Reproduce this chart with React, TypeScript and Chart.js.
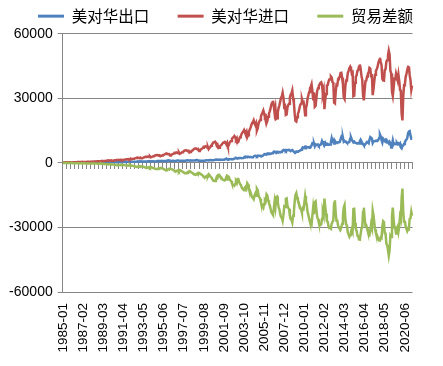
import React, { useEffect, useRef } from "react";
import { Chart, registerables } from "chart.js";

Chart.register(...registerables);

const START_YEAR = 1985;
const SERIES_NAMES = ["美对华出口", "美对华进口", "贸易差额"];
const SERIES_COLORS = ["#4F81BD", "#C0504D", "#9BBB59"];
const Y_MIN = -60000;
const Y_MAX = 60000;
const Y_STEP = 30000;
const LABEL_EVERY = 25;
const TICK_EVERY = 5;

// US exports to China, monthly (million USD)
const exportsToChina: number[] = [
  330, 300, 320, 310, 330, 320, 290, 300, 310, 330, 350, 345,
  270, 240, 260, 250, 255, 250, 240, 245, 255, 270, 280, 290,
  280, 260, 290, 280, 285, 290, 275, 280, 290, 305, 320, 340,
  380, 350, 400, 390, 410, 410, 400, 410, 430, 450, 480, 510,
  470, 430, 480, 460, 480, 470, 450, 460, 470, 500, 530, 555,
  420, 370, 400, 380, 390, 390, 370, 380, 390, 410, 440, 450,
  480, 450, 500, 490, 510, 510, 490, 510, 530, 560, 600, 640,
  580, 540, 600, 580, 600, 600, 580, 600, 620, 660, 710, 750,
  690, 640, 710, 690, 710, 710, 680, 700, 730, 780, 840, 880,
  760, 700, 770, 740, 750, 750, 720, 730, 750, 820, 890, 900,
  920, 860, 960, 920, 950, 950, 910, 930, 960, 1040, 1140, 1210,
  1000, 920, 1000, 950, 970, 970, 920, 930, 950, 1050, 1150, 1180,
  1070, 990, 1070, 1020, 1040, 1040, 990, 1000, 1020, 1130, 1230, 1260,
  1190, 1090, 1190, 1130, 1150, 1150, 1090, 1100, 1130, 1250, 1370, 1400,
  1090, 1000, 1090, 1040, 1060, 1060, 1000, 1020, 1040, 1150, 1260, 1300,
  1280, 1200, 1320, 1280, 1310, 1320, 1260, 1290, 1330, 1450, 1560, 1580,
  1550, 1430, 1570, 1500, 1540, 1540, 1480, 1500, 1520, 1680, 1830, 2040,
  1750, 1620, 1780, 1720, 1770, 1780, 1720, 1750, 1800, 1970, 2150, 2320,
  2200, 2050, 2280, 2200, 2250, 2270, 2200, 2240, 2320, 2580, 2850, 2930,
  2800, 2600, 2900, 2800, 2800, 2750, 2650, 2700, 2800, 3000, 3300, 3330,
  3300, 3050, 3400, 3250, 3350, 3350, 3200, 3250, 3350, 3600, 3950, 4140,
  4100, 3900, 4400, 4200, 4400, 4400, 4200, 4300, 4500, 4800, 5200, 5270,
  5000, 4700, 5200, 5000, 5100, 5100, 4900, 5100, 5300, 5700, 6000, 5840,
  6000, 5600, 6000, 5900, 6000, 6100, 5800, 5700, 5800, 6000, 5600, 5230,
  5000, 4800, 5300, 5200, 5400, 5500, 5600, 5800, 6100, 6600, 7200, 7000,
  7300, 6800, 7600, 7500, 7300, 7300, 7100, 7400, 7500, 8100, 9100, 8900,
  9000, 7800, 8600, 8300, 8500, 8600, 8000, 8300, 8400, 9000, 10200, 9400,
  9500, 8400, 9300, 8500, 9000, 8900, 8500, 8500, 8600, 9700, 11500, 10100,
  10500, 9100, 10300, 9700, 9500, 9300, 9600, 9700, 9800, 10900, 12000, 11300,
  11700, 9900, 10200, 9800, 9800, 9400, 9400, 9600, 9800, 11300, 11900, 10900,
  10200, 9600, 9900, 9400, 9300, 9200, 9000, 9200, 9100, 10100, 10800, 10100,
  8900, 8900, 8300, 8300, 8800, 9300, 9800, 9600, 9200, 10800, 12000, 11700,
  11300, 9300, 10000, 10100, 10200, 10300, 10400, 10300, 10700, 11600, 13300, 12400,
  10600, 9500, 11300, 10800, 10500, 10800, 9600, 9500, 9700, 9100, 9800, 9100,
  7200, 8400, 10400, 8600, 9100, 9000, 8700, 9400, 8800, 9100, 8600, 9100,
  7200, 6800, 7900, 8100, 8800, 9500, 10500, 10900, 11600, 13800, 14600, 14800,
  12800, 11300, 11400,
];

// US imports from China, monthly (million USD)
const importsFromChina: number[] = [
  306, 264, 277, 290, 306, 316, 335, 354, 354, 367, 354, 341,
  378, 326, 342, 358, 378, 390, 414, 438, 438, 454, 438, 422,
  499, 430, 451, 472, 499, 514, 546, 577, 577, 598, 577, 556,
  674, 581, 610, 638, 674, 695, 737, 780, 780, 808, 780, 752,
  949, 819, 859, 899, 949, 979, 1039, 1099, 1099, 1139, 1099, 1059,
  1206, 1041, 1092, 1143, 1206, 1244, 1320, 1397, 1397, 1447, 1397, 1346,
  1502, 1296, 1360, 1423, 1502, 1549, 1644, 1739, 1739, 1802, 1739, 1676,
  2037, 1758, 1844, 1930, 2037, 2101, 2230, 2358, 2358, 2444, 2358, 2273,
  2497, 2155, 2260, 2365, 2497, 2575, 2733, 2891, 2891, 2996, 2891, 2786,
  3070, 2650, 2780, 2909, 3070, 3167, 3361, 3555, 3555, 3684, 3555, 3426,
  3605, 3112, 3264, 3416, 3605, 3719, 3947, 4175, 4175, 4326, 4175, 4023,
  4078, 3520, 3692, 3864, 4078, 4207, 4465, 4722, 4722, 4894, 4722, 4551,
  4952, 4275, 4483, 4692, 4952, 5109, 5422, 5734, 5734, 5943, 5734, 5526,
  5634, 4863, 5101, 5338, 5634, 5812, 6168, 6524, 6524, 6761, 6524, 6287,
  6475, 5589, 5862, 6134, 6475, 6680, 7089, 7498, 7498, 7770, 7498, 7225,
  7400, 6400, 6900, 7400, 8000, 8400, 9100, 9600, 9700, 9900, 9300, 8100,
  8523, 6989, 7074, 7671, 8097, 8353, 8949, 9375, 9546, 9801, 9290, 8608,
  9400, 7800, 8200, 9300, 9900, 10200, 11200, 11800, 12000, 12500, 11900, 10900,
  11500, 9500, 9800, 11200, 12000, 12500, 13500, 14200, 14600, 15300, 14300, 13900,
  14600, 12000, 12900, 14500, 15400, 16300, 17500, 18600, 18900, 19800, 18500, 17600,
  18500, 15000, 16000, 18200, 19300, 20000, 21600, 22700, 23500, 24400, 23000, 21300,
  21700, 18500, 19500, 21500, 23000, 24000, 25500, 27200, 28000, 28900, 26700, 23300,
  25500, 20500, 20800, 23500, 25600, 26800, 28600, 30300, 30800, 32600, 30300, 26100,
  26500, 22300, 22500, 25800, 26900, 27500, 30400, 31800, 32300, 33700, 30100, 27900,
  22900, 19600, 19300, 21200, 22800, 23800, 25700, 27000, 27600, 29700, 28300, 28400,
  25800, 22200, 25500, 27000, 30000, 31500, 33000, 34800, 35400, 36600, 33500, 29600,
  32800, 26100, 26500, 30200, 33600, 34700, 35800, 36600, 37200, 37500, 36200, 32200,
  33900, 25000, 29600, 32100, 36000, 36200, 37800, 38800, 38800, 40200, 39700, 37500,
  37300, 28000, 27700, 33000, 36400, 36200, 38900, 39700, 39900, 41800, 41900, 39600,
  36500, 30600, 29800, 35800, 38300, 38600, 41700, 42800, 44100, 44800, 43900, 41600,
  42000, 31000, 31200, 37300, 40000, 40700, 42800, 43200, 44700, 45800, 43900, 40600,
  38700, 31700, 29100, 33900, 38000, 38300, 40200, 41500, 42100, 44200, 43900, 40300,
  41300, 31500, 34300, 38000, 41000, 42800, 43600, 44600, 46400, 47600, 48900, 47000,
  45500, 39100, 38400, 38300, 43200, 43600, 47100, 47800, 50000, 52200, 50400, 42900,
  41600, 33200, 31200, 34800, 39100, 39000, 41500, 40000, 38500, 41100, 38200, 34000,
  33300, 22800, 19800, 31100, 36100, 36500, 40000, 41500, 43300, 44700, 44900, 40800,
  38500, 34000, 36000,
];

// Trade balance (exports - imports), monthly (million USD)
const tradeBalance: number[] = [
  24, 36, 43, 20, 24, 4, -45, -54, -44, -37, -4, 4,
  -108, -86, -82, -108, -123, -140, -174, -193, -183, -184, -158, -132,
  -219, -170, -161, -192, -214, -224, -271, -297, -287, -293, -257, -216,
  -294, -231, -210, -248, -264, -285, -337, -370, -350, -358, -300, -242,
  -479, -389, -379, -439, -469, -509, -589, -639, -629, -639, -569, -504,
  -786, -671, -692, -763, -816, -854, -950, -1017, -1007, -1037, -957, -896,
  -1022, -846, -860, -933, -992, -1039, -1154, -1229, -1209, -1242, -1139, -1036,
  -1457, -1218, -1244, -1350, -1437, -1501, -1650, -1758, -1738, -1784, -1648, -1523,
  -1807, -1515, -1550, -1675, -1787, -1865, -2053, -2191, -2161, -2216, -2051, -1906,
  -2310, -1950, -2010, -2169, -2320, -2417, -2641, -2825, -2805, -2864, -2665, -2526,
  -2685, -2252, -2304, -2496, -2655, -2769, -3037, -3245, -3215, -3286, -3035, -2813,
  -3078, -2600, -2692, -2914, -3108, -3237, -3545, -3792, -3772, -3844, -3572, -3371,
  -3882, -3285, -3413, -3672, -3912, -4069, -4432, -4734, -4714, -4813, -4504, -4266,
  -4444, -3773, -3911, -4208, -4484, -4662, -5078, -5424, -5394, -5511, -5154, -4887,
  -5385, -4589, -4772, -5094, -5415, -5620, -6089, -6478, -6458, -6620, -6238, -5925,
  -6120, -5200, -5580, -6120, -6690, -7080, -7840, -8310, -8370, -8450, -7740, -6520,
  -6973, -5559, -5504, -6171, -6557, -6813, -7469, -7875, -8026, -8121, -7460, -6568,
  -7650, -6180, -6420, -7580, -8130, -8420, -9480, -10050, -10200, -10530, -9750, -8580,
  -9300, -7450, -7520, -9000, -9750, -10230, -11300, -11960, -12280, -12720, -11450, -10970,
  -11800, -9400, -10000, -11700, -12600, -13550, -14850, -15900, -16100, -16800, -15200, -14270,
  -15200, -11950, -12600, -14950, -15950, -16650, -18400, -19450, -20150, -20800, -19050, -17160,
  -17600, -14600, -15100, -17300, -18600, -19600, -21300, -22900, -23500, -24100, -21500, -18030,
  -20500, -15800, -15600, -18500, -20500, -21700, -23700, -25200, -25500, -26900, -24300, -20260,
  -20500, -16700, -16500, -19900, -20900, -21400, -24600, -26100, -26500, -27700, -24500, -22670,
  -17900, -14800, -14000, -16000, -17400, -18300, -20100, -21200, -21500, -23100, -21100, -21400,
  -18500, -15400, -17900, -19500, -22700, -24200, -25900, -27400, -27900, -28500, -24400, -20700,
  -23800, -18300, -17900, -21900, -25100, -26100, -27800, -28300, -28800, -28500, -26000, -22800,
  -24400, -16600, -20300, -23600, -27000, -27300, -29300, -30300, -30200, -30500, -28200, -27400,
  -26800, -18900, -17400, -23300, -26900, -26900, -29300, -30000, -30100, -30900, -29900, -28300,
  -24800, -20700, -19600, -26000, -28500, -29200, -32300, -33200, -34300, -33500, -32000, -30700,
  -31800, -21400, -21300, -27900, -30700, -31500, -33800, -34000, -35600, -35700, -33100, -30500,
  -29800, -22800, -20800, -25600, -29200, -29000, -30400, -31900, -32900, -33400, -31900, -28600,
  -30000, -22200, -24300, -27900, -30800, -32500, -33200, -34300, -35700, -36000, -35600, -34600,
  -34900, -29600, -27100, -27500, -32700, -32800, -37500, -38300, -40300, -43100, -40600, -33800,
  -34400, -24800, -20800, -26200, -30000, -30000, -32800, -30600, -29700, -32000, -29600, -24900,
  -26100, -16000, -11900, -23000, -27300, -27000, -29500, -30600, -31700, -30900, -30300, -26000,
  -25700, -22700, -24600,
];

// Month categories "YYYY-MM"
const categories: string[] = exportsToChina.map(
  (_, i) => `${START_YEAR + Math.floor(i / 12)}-${String((i % 12) + 1).padStart(2, "0")}`
);

const GRID_COLOR = "#868686";
const TEXT_COLOR = "#000000";

export default function App() {
  const canvasRef = useRef<HTMLCanvasElement | null>(null);

  useEffect(() => {
    if (!canvasRef.current) return;
    const seriesData = [exportsToChina, importsFromChina, tradeBalance];
    const chart = new Chart(canvasRef.current, {
      type: "line",
      data: {
        labels: categories,
        datasets: seriesData.map((d, i) => ({
          label: SERIES_NAMES[i],
          data: d,
          borderColor: SERIES_COLORS[i],
          backgroundColor: SERIES_COLORS[i],
          borderWidth: 2.5,
          pointRadius: 0,
          pointHoverRadius: 0,
          fill: false,
          tension: 0,
          order: 3 - i,
        })),
      },
      options: {
        animation: false,
        responsive: false,
        events: [],
        layout: { padding: { left: 8, right: 0, top: -20, bottom: 0 } },
        plugins: {
          tooltip: { enabled: false },
          legend: {
            display: true,
            position: "top",
            align: "center",
            labels: {
              boxWidth: 26,
              boxHeight: 3,
              padding: 28.4,
              color: TEXT_COLOR,
              font: { family: '"Noto Sans CJK SC"', size: 15.5 },
              sort: (a: any, b: any) => a.datasetIndex - b.datasetIndex,
              generateLabels: (chart: any) =>
                Chart.defaults.plugins.legend.labels
                  .generateLabels(chart)
                  .map((l: any) => ({ ...l, lineWidth: 0, fillStyle: l.strokeStyle })),
            },
          },
        },
        scales: {
          x: {
            type: "category",
            position: "bottom",
            offset: true,
            grid: { display: false, drawTicks: false },
            border: { display: false },
            ticks: {
              autoSkip: false,
              maxRotation: 90,
              minRotation: 90,
              padding: 11,
              color: TEXT_COLOR,
              font: { family: '"Liberation Sans"', size: 13.5 },
            },
            afterBuildTicks: (s: any) => {
              s.ticks = s.ticks.filter((t: any) => t.value % LABEL_EVERY === 0);
            },
            afterFit: (s: any) => {
              s.height = 74;
            },
          },
          x2: {
            type: "category",
            position: { y: 0 },
            offset: true,
            grid: {
              display: true,
              drawOnChartArea: false,
              drawTicks: true,
              tickLength: 6,
              color: GRID_COLOR,
              offset: false,
            },
            border: { display: true, color: GRID_COLOR, width: 1 },
            ticks: { display: false },
            afterBuildTicks: (s: any) => {
              s.ticks = s.ticks.filter((t: any) => t.value % TICK_EVERY === TICK_EVERY - 1);
            },
          },
          y: {
            position: "left",
            min: Y_MIN,
            max: Y_MAX,
            grid: { color: GRID_COLOR, drawTicks: true, tickLength: 5 },
            border: { display: true, color: GRID_COLOR },
            ticks: {
              stepSize: Y_STEP,
              padding: 5,
              color: TEXT_COLOR,
              font: { family: '"Liberation Sans"', size: 14 },
              callback: (v: any) => String(v),
            },
            afterFit: (s: any) => {
              s.width = 54.7;
            },
          },
          yRightSpace: {
            type: "linear",
            position: "right",
            display: true,
            grid: { display: false, drawTicks: false },
            border: { display: false },
            ticks: { display: false },
            afterFit: (s: any) => {
              s.width = 30.5;
            },
          },
        },
      },
    } as any);
    return () => chart.destroy();
  }, []);

  return (
    <canvas
      ref={canvasRef}
      width={443}
      height={366}
      style={{ position: "fixed", left: 0, top: 0, width: 443, height: 366, display: "block" }}
    />
  );
}
